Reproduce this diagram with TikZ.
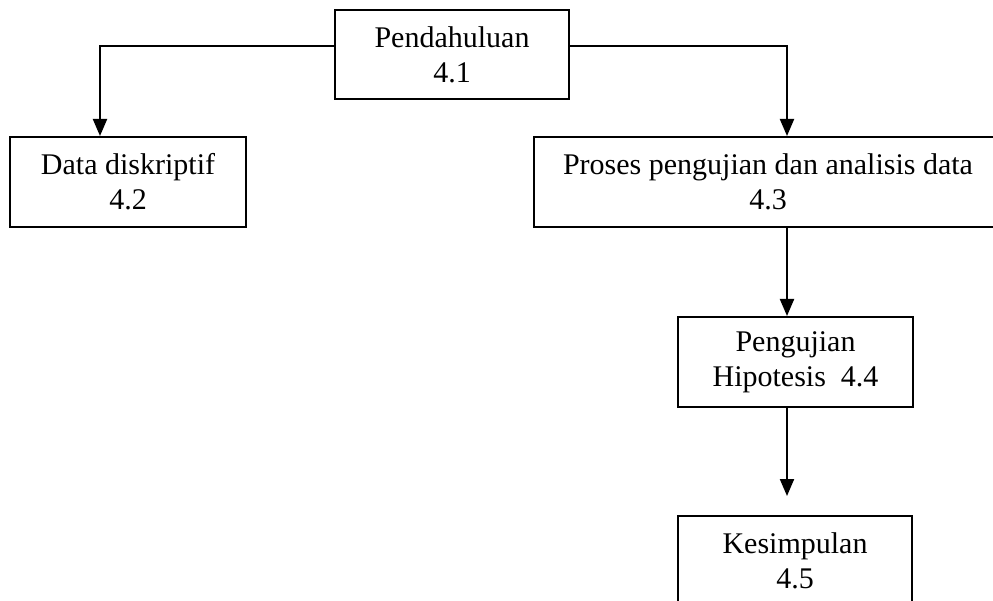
\documentclass[tikz,border=0pt]{standalone}
\usepackage{fontspec}
\setmainfont{Liberation Serif}
\usetikzlibrary{arrows.meta}
\begin{document}
\begin{tikzpicture}[x=1pt,y=-1pt,
  box/.style={draw, line width=2pt, inner sep=0pt, align=center,
    font=\fontsize{30}{35}\selectfont},
  link/.style={line width=2pt, -{Triangle[width=14pt,length=17pt]}}]
  \useasboundingbox (0,0) rectangle (993,601);
  \fill[white] (0,0) rectangle (993,601);

  % chapter sections
  \node[box, minimum width=234pt, minimum height=89pt] (b1) at (452,54.5)
    {Pendahuluan\\4.1};
  \node[box, minimum width=236pt, minimum height=90pt] (b2) at (128,182)
    {Data diskriptif\\4.2};
  \node[box, minimum width=468pt, minimum height=90pt] (b3) at (768,182)
    {Proses pengujian dan analisis data\\4.3};
  \node[box, minimum width=235pt, minimum height=90pt] (b4) at (795.5,362)
    {Pengujian\\Hipotesis\ \ 4.4};
  \node[box, minimum width=234pt, minimum height=90pt] (b5) at (795,561)
    {Kesimpulan\\4.5};

  % connectors
  \draw[link] ([yshift=8.5pt]b1.west) -| ([xshift=-28pt]b2.north);
  \draw[link] ([yshift=8.5pt]b1.east) -| ([xshift=19pt]b3.north);
  \draw[link] ([xshift=19pt]b3.south) -- ([xshift=-8.5pt]b4.north);
  \draw[link, shorten >=19pt] ([xshift=-8.5pt]b4.south) -- ([xshift=-8pt]b5.north);
\end{tikzpicture}
\end{document}
